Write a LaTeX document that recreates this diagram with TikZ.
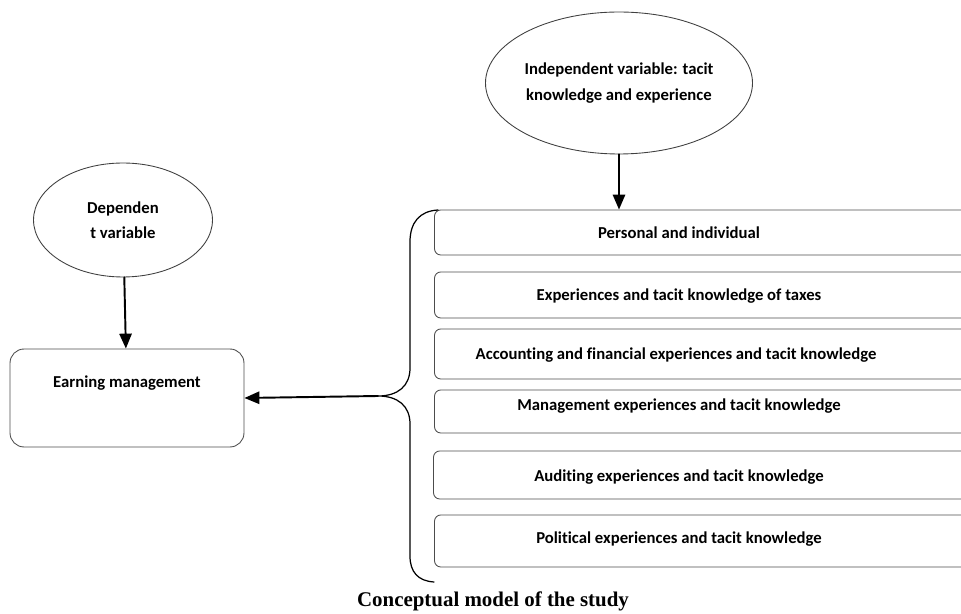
\documentclass[tikz,border=0pt]{standalone}
\usepackage{fontspec}
\setmainfont[Ligatures=NoCommon]{Carlito}
\newfontfamily\capfont{Liberation Serif}
\usetikzlibrary{arrows.meta,shapes.geometric,positioning}

\begin{document}
\begin{tikzpicture}[x=0.02cm,y=-0.02cm,
		line join = round,line cap = round,>={Triangle[length=8.5pt,width=7pt]},
		varell/.style={ellipse,draw = black!75,line width=0.5pt,inner sep=0pt,align=center,
			font=\bfseries\fontsize{9.5}{14.5}\selectfont},
		fbox/.style={rectangle,rounded corners=3.5pt,draw = black!70,line width=0.5pt,minimum width=11.1cm},
		flabel/.style={font=\bfseries\fontsize{9.5}{11}\selectfont},
		link/.style={->,line width=1.1pt}]
	\useasboundingbox (0,0) rectangle (961,614);
	% the two variables
	\node at (619,83) (indep) [varell, minimum width=5.3cm, minimum height=2.84cm] {Independent variable: tacit\\knowledge and experience};
	\node at (123,220) (dep) [varell, minimum width=3.58cm, minimum height=2.28cm] {Dependen\\t variable};
	\node at (127,398) (earn) [fbox, rounded corners=8pt, minimum width=4.68cm, minimum height=1.96cm] {};
	\node at (127,383) (earntxt) [flabel] {Earning management};
	% the six components
	\node at (712,232.5) (bPers) [fbox, minimum height=0.9cm] {};
	\node at (712,295) (bTax) [fbox, minimum height=0.92cm] {};
	\node at (712,354) (bAcc) [fbox, minimum height=1cm] {};
	\node at (712,411.5) (bMan) [fbox, minimum height=0.86cm] {};
	\node at (711,475) (bAud) [fbox, minimum height=0.96cm] {};
	\node at (712,541) (bPol) [fbox, minimum height=1.04cm] {};
	\node at (679,233) (tPers) [flabel] {Personal and individual};
	\node at (679,296) (tTax) [flabel] {Experiences and tacit knowledge of taxes};
	\node at (676,355) (tAcc) [flabel] {Accounting and financial experiences and tacit knowledge};
	\node at (679,406) (tMan) [flabel] {Management experiences and tacit knowledge};
	\node at (679,477) (tAud) [flabel] {Auditing experiences and tacit knowledge};
	\node at (679,539) (tPol) [flabel] {Political experiences and tacit knowledge};
	% brace around the components
	\coordinate (brTop) at (438,210);
	\coordinate (brTip) at (378,396);
	\coordinate (brBot) at (434,582);
	\draw[line width=0.7pt] (brTop) .. controls (420,211) and (410,222) .. (410,242) -- (410,368)
		.. controls (410,386) and (398,396) .. (brTip)
		.. controls (398,396) and (410,406) .. (410,424) -- (410,556)
		.. controls (410,572) and (418,581) .. (brBot);
	% arrows
	\draw[link] (indep.south) -- (indep.south |- bPers.north);
	\draw[link] (dep) -- (earn);
	\draw[link] (brTip) -- (earn.east);
	\node at (493,601) (cap) [font=\capfont\bfseries\fontsize{11.9}{13}\selectfont] {Conceptual model of the study};
\end{tikzpicture}
\end{document}
